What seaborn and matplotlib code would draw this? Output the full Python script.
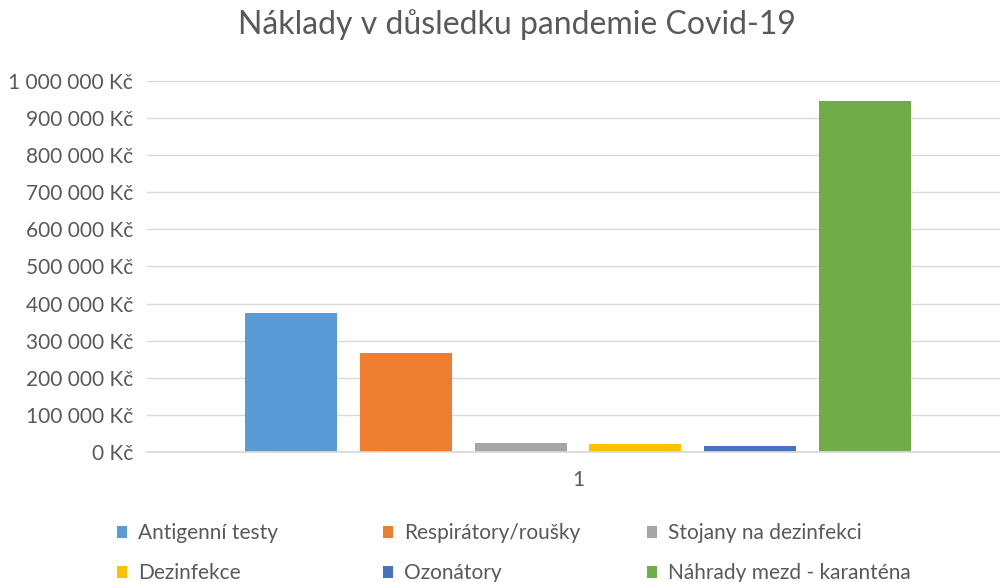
import numpy as np
import pandas as pd
from matplotlib import pyplot as plt
from matplotlib.patches import Patch
from matplotlib.ticker import FuncFormatter, MultipleLocator
import seaborn as sns

# data
categories = ["Antigenní testy", "Respirátory/roušky", "Stojany na dezinfekci",
              "Dezinfekce", "Ozonátory", "Náhrady mezd - karanténa"]
costs = [375000, 268000, 25000, 22000, 17000, 946000]
group = ["1"] * len(categories)
colours = ["#5B9BD5", "#ED7D31", "#A5A5A5", "#FFC000", "#4472C4", "#70AD47"]

sns.set_theme(style="white")
plt.rcParams['font.family'] = ['Lato', 'DejaVu Sans']
text_col = "#595959"

df = pd.DataFrame({"group": group, "category": categories, "cost": costs})

fig = plt.figure(figsize=(10, 5.82), dpi=100)
ax = fig.add_axes([0.147, 0.2234, 0.862, 0.6375])

sns.barplot(data=df, x="group", y="cost", hue="category", hue_order=categories,
            palette=colours, width=0.8, gap=0.2, legend=False, ax=ax,
            saturation=1, edgecolor="none")

ax.set_ylim(0, 1000000)
ax.set_xlim(-0.5, 0.5)
ax.yaxis.set_major_locator(MultipleLocator(100000))
ax.yaxis.set_major_formatter(
    FuncFormatter(lambda v, p: f"{v:,.0f}".replace(",", " ") + " Kč"))
ax.grid(axis="y", color="#d9d9d9", linewidth=1)
ax.set_axisbelow(True)
for s in ["top", "right", "left"]:
    ax.spines[s].set_visible(False)
ax.spines["bottom"].set_color("#d9d9d9")
ax.tick_params(axis="y", length=0, pad=10, labelsize=15, labelcolor=text_col)
ax.tick_params(axis="x", length=0, pad=13, labelsize=15, labelcolor=text_col)
ax.set_xlabel("")
ax.set_ylabel("")

fig.suptitle("Náklady v důsledku pandemie Covid-19", x=0.517, y=0.985,
             fontsize=23, color=text_col)

# legend: three columns of two rows each
col_x = [0.117, 0.383, 0.647]
for i, x0 in enumerate(col_x):
    handles = [Patch(facecolor=colours[i], edgecolor="none", label=categories[i]),
               Patch(facecolor=colours[i + 3], edgecolor="none", label=categories[i + 3])]
    fig.legend(handles=handles, loc="upper left", bbox_to_anchor=(x0, 0.101),
               frameon=False, fontsize=15, labelcolor=text_col,
               handlelength=0.5, handleheight=0.5, handletextpad=0.5,
               labelspacing=0.95, borderaxespad=0, borderpad=0)

fig.savefig("out.png", dpi=100)
